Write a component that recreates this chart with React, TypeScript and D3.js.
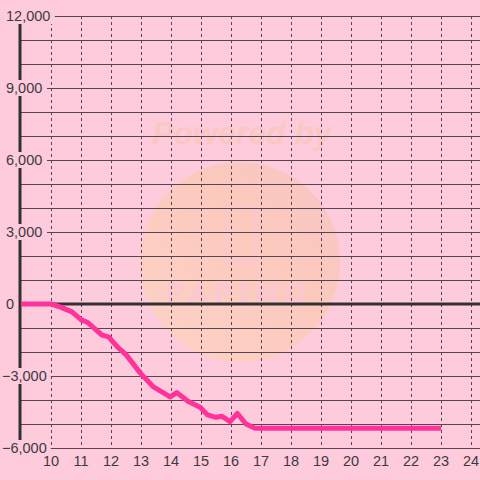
import React from "react";
import * as d3 from "d3";

const hours = [9, 10, 10.3, 10.7, 11.0, 11.22, 11.7, 11.92, 12.22, 12.5, 12.97, 13.4, 13.75, 13.97, 14.19, 14.58, 14.97, 15.22, 15.5, 15.7, 15.97, 16.21, 16.5, 16.8, 23];
const values = [0, 0, -120, -330, -650, -770, -1300, -1370, -1800, -2110, -2870, -3440, -3700, -3870, -3690, -4060, -4300, -4620, -4720, -4680, -4900, -4560, -5000, -5180, -5180];
const yTicks = [-6000, -3000, 0, 3000, 6000, 9000, 12000];
const xTicks = [10, 11, 12, 13, 14, 15, 16, 17, 18, 19, 20, 21, 22, 23, 24];

const W = 480;
const H = 480;
const BG = "#fdcbdc";
const GRID = "#5a4352";
const AXIS = "#333033";

export default function App() {
  const x = d3.scaleLinear().domain([9, 24]).range([21, 471]);
  const y = d3.scaleLinear().domain([-6000, 12000]).range([448, 16]);
  const gridVals = d3.range(-6000, 12001, 1000);
  const line = d3
    .line<number>()
    .x((_, i) => x(hours[i]))
    .y((v) => y(v))
    .curve(d3.curveLinear);
  const fmt = d3.format(",");

  return (
    <svg width={W} height={H} style={{ position: "fixed", left: 0, top: 0 }} fontFamily="'Liberation Sans', Arial, sans-serif">
      <defs>
        <linearGradient id="wm" x1="0" y1="1" x2="1" y2="0">
          <stop offset="0" stopColor="#fdd3c6" />
          <stop offset="0.6" stopColor="#fcc9bd" />
          <stop offset="1" stopColor="#f6c6c4" />
        </linearGradient>
      </defs>
      <rect x={0} y={0} width={W} height={H} fill={BG} />
      {/* watermark */}
      <g>
        <circle cx={240} cy={262} r={100} fill="url(#wm)" />
        <text x={242} y={144} textAnchor="middle" fontSize={32} fontWeight="bold" fontStyle="italic" fill="#f9c8c2">
          Powered by
        </text>
        <rect x={226} y={208} width={30} height={55} rx={2} fill="none" stroke="#fcc6d6" strokeWidth={2} />
        <text x={240} y={302} textAnchor="middle" fontSize={26} fill="none" stroke="#fcc6d6" strokeWidth={1.5} letterSpacing={8}>
          PAPIMO
        </text>
      </g>
      {/* horizontal grid */}
      {gridVals.map((v) => (
        <line key={"h" + v} x1={20} x2={W} y1={Math.round(y(v)) + 0.5} y2={Math.round(y(v)) + 0.5} stroke={GRID} strokeWidth={1} />
      ))}
      {/* vertical dashed grid */}
      {xTicks.map((t) => (
        <line key={"v" + t} x1={Math.round(x(t)) + 0.5} x2={Math.round(x(t)) + 0.5} y1={16} y2={448} stroke={GRID} strokeWidth={1} strokeDasharray="3,3" />
      ))}
      {/* axes */}
      <line x1={20} x2={W} y1={y(0)} y2={y(0)} stroke={AXIS} strokeWidth={3} />
      <line x1={20} x2={20} y1={16} y2={448} stroke={AXIS} strokeWidth={3} />
      {/* data line */}
      <path d={line(values) || ""} fill="none" stroke="#ff3399" strokeWidth={5} strokeLinejoin="round" strokeLinecap="butt" />
      {/* y labels with background */}
      {yTicks.map((t) => {
        const label = fmt(t);
        const lx = t < 0 ? 2 : 6;
        const w = label.length * 7.8 + 4;
        return (
          <g key={"yl" + t}>
            <rect x={lx - 2} y={y(t) - 8} width={t === 0 ? 12 : w} height={16} fill={BG} />
            <text x={lx} y={y(t) + 5} fontSize={14.5} fill="#3d3a3d" textAnchor="start">
              {label}
            </text>
          </g>
        );
      })}
      {/* x labels */}
      {xTicks.map((t) => (
        <text key={"xl" + t} x={x(t)} y={466} fontSize={14.5} fill="#3d3a3d" textAnchor="middle">
          {t}
        </text>
      ))}
    </svg>
  );
}
